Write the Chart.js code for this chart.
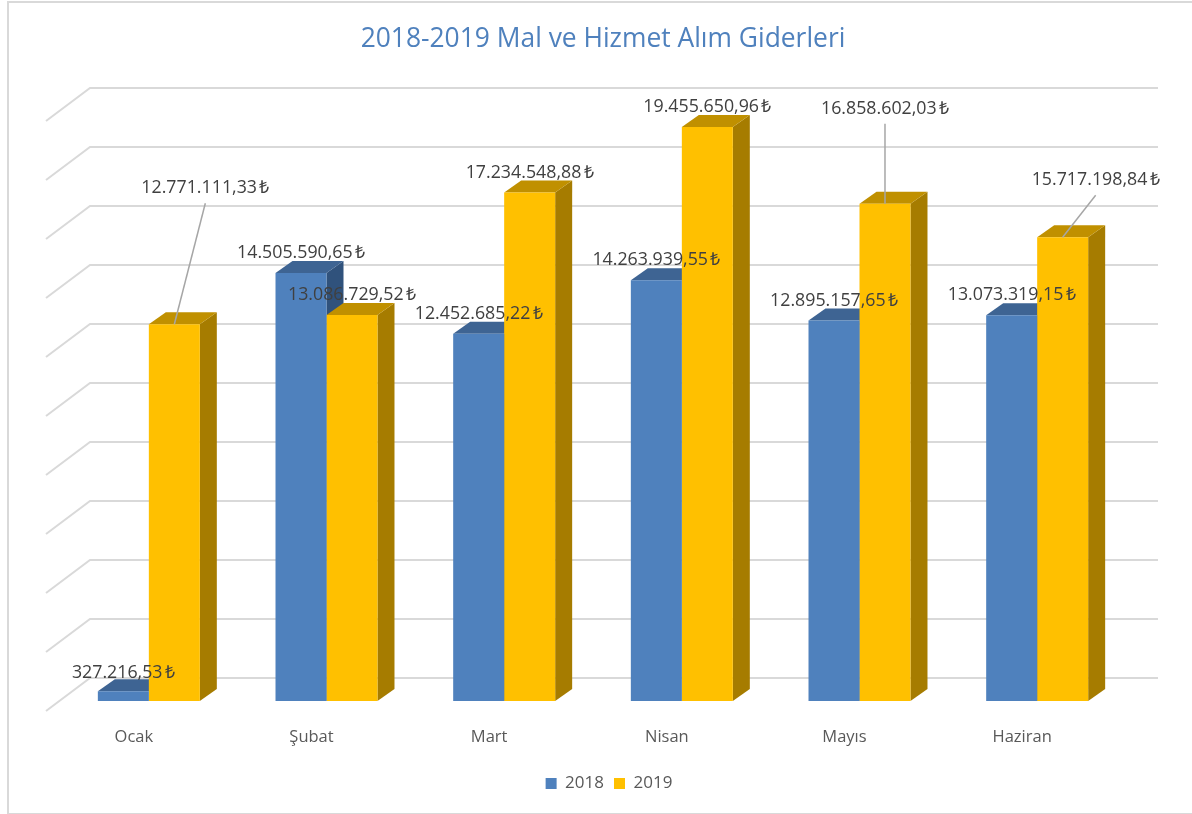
<!DOCTYPE html>
<html>
<head>
<meta charset="utf-8">
<title>2018-2019 Mal ve Hizmet Alım Giderleri</title>
<script src="https://cdn.jsdelivr.net/npm/chart.js@4"></script>
<style>
    html, body { margin: 0; padding: 0; background: #fff; overflow: hidden; }
    #frame { position: absolute; left: 7px; top: 1px; width: 1300px; height: 810px; border: 2px solid #d9d9d9; }
    #wrap { position: absolute; left: 0; top: 0; width: 1192px; height: 814px; }
</style>
</head>
<body>
<div id="frame"></div>
<div id="wrap"><canvas id="Chart1" width="1192" height="814"></canvas></div>
<script>
const months = ['Ocak', 'Şubat', 'Mart', 'Nisan', 'Mayıs', 'Haziran'];
const values2018 = [327216.53, 14505590.65, 12452685.22, 14263939.55, 12895157.65, 13073319.15];
const values2019 = [12771111.33, 13086729.52, 17234548.88, 19455650.96, 16858602.03, 15717198.84];

const textFont = 'Open Sans';
const textColor = '#595959';

// side and top colours of the 3d bars
const shades = [
    { top: '#3e6493', side: '#30527c' },
    { top: '#c09000', side: '#a67c00' },
];
const depthX = 17;
const depthY = 12;

// wall of the chart sits behind the bars
const wallBack = 23;
const wallFront = 10;
const wallLeft = 46;
const wallMid = 90;
const wallRight = 1158;

// label offset from bar top, the far ones get a leader line
const labelOffsets = [
    [[0, -18], [0, -20], [0, -20], [0, -20], [0, -20], [0, -20]],
    [[31, -136], [0, -20], [0, -20], [0, -20], [0, -95], [33, -57]],
];
const leaderFlags = [
    [false, false, false, false, false, false],
    [true, false, false, false, true, true],
];

function money(v) {
    return v.toLocaleString('tr-TR', { minimumFractionDigits: 2, maximumFractionDigits: 2 }) + '\u202f₺';
}

const walls = {
    id: 'walls',
    // title and legend are not centred on the plot in the original
    afterLayout(chart) {
        chart.titleBlock.left += 10;
        chart.titleBlock.right += 10;
        chart.legend.left += 16;
        chart.legend.right += 16;
    },
    beforeDatasetsDraw(chart) {
        const ctx = chart.ctx;
        const y = chart.scales.y;
        ctx.save();
        ctx.strokeStyle = '#d9d9d9';
        ctx.lineWidth = 2;
        y.ticks.forEach(t => {
            const py = y.getPixelForValue(t.value);
            ctx.beginPath();
            ctx.moveTo(wallLeft, py + wallFront);
            ctx.lineTo(wallMid, py - wallBack);
            ctx.lineTo(wallRight, py - wallBack);
            ctx.stroke();
        });

        // top and side of every bar, the fronts come from chart.js afterwards
        [0, 1].forEach(d => {
            chart.getDatasetMeta(d).data.forEach(bar => {
                const left = bar.x - bar.width / 2;
                const right = bar.x + bar.width / 2;
                ctx.fillStyle = shades[d].side;
                ctx.beginPath();
                ctx.moveTo(right, bar.y);
                ctx.lineTo(right + depthX, bar.y - depthY);
                ctx.lineTo(right + depthX, bar.base - depthY);
                ctx.lineTo(right, bar.base);
                ctx.closePath();
                ctx.fill();
                ctx.fillStyle = shades[d].top;
                ctx.beginPath();
                ctx.moveTo(left, bar.y);
                ctx.lineTo(left + depthX, bar.y - depthY);
                ctx.lineTo(right + depthX, bar.y - depthY);
                ctx.lineTo(right, bar.y);
                ctx.closePath();
                ctx.fill();
            });
        });
        ctx.restore();
    },
    afterDatasetsDraw(chart) {
        const ctx = chart.ctx;
        ctx.save();
        ctx.font = '17.8px "' + textFont + '"';
        ctx.textAlign = 'center';
        ctx.textBaseline = 'middle';
        [0, 1].forEach(d => {
            const values = chart.data.datasets[d].data;
            chart.getDatasetMeta(d).data.forEach((bar, i) => {
                const off = labelOffsets[d][i];
                const lx = bar.x + off[0];
                const ly = bar.y + off[1];
                if (leaderFlags[d][i]) {
                    ctx.strokeStyle = '#a6a6a6';
                    ctx.lineWidth = 1.5;
                    ctx.beginPath();
                    ctx.moveTo(bar.x, bar.y);
                    ctx.lineTo(lx, ly + 15);
                    ctx.stroke();
                }
                ctx.fillStyle = '#404040';
                ctx.fillText(money(values[i]), lx, ly);
            });
        });
        ctx.restore();
    }
};

let config = {
    type: 'bar',
    data: {
        labels: months,
        datasets: [
            { label: '2018', data: values2018, backgroundColor: '#4f81bd', borderWidth: 0 },
            { label: '2019', data: values2019, backgroundColor: '#ffc000', borderWidth: 0 },
        ]
    },
    options: {
        responsive: false,
        animation: false,
        layout: { padding: { left: 60, right: 66, top: 24, bottom: 12 } },
        datasets: { bar: { categoryPercentage: 0.574, barPercentage: 1 } },
        plugins: {
            title: {
                display: true,
                text: '2018-2019 Mal ve Hizmet Alım Giderleri',
                color: '#4f81bd',
                font: { family: textFont, size: 26.4, weight: 'normal' },
                padding: { top: 0, bottom: 55.3 }
            },
            legend: {
                position: 'bottom',
                labels: {
                    boxWidth: 11,
                    boxHeight: 11,
                    color: textColor,
                    font: { family: textFont, size: 17 }
                }
            },
            tooltip: { enabled: false }
        },
        scales: {
            x: {
                grid: { display: false },
                border: { display: false },
                afterFit(scale) { scale.height = 64; },
                ticks: {
                    color: textColor,
                    font: { family: textFont, size: 16.5 },
                    padding: 18,
                    labelOffset: -15,
                    maxRotation: 0
                }
            },
            y: {
                display: false,
                min: 0,
                max: 20000000,
                ticks: { stepSize: 2000000 }
            }
        }
    },
    plugins: [walls]
};

let ctx = document.getElementById('Chart1');
let myChart = new Chart(ctx, config);
</script>
</body>
</html>
